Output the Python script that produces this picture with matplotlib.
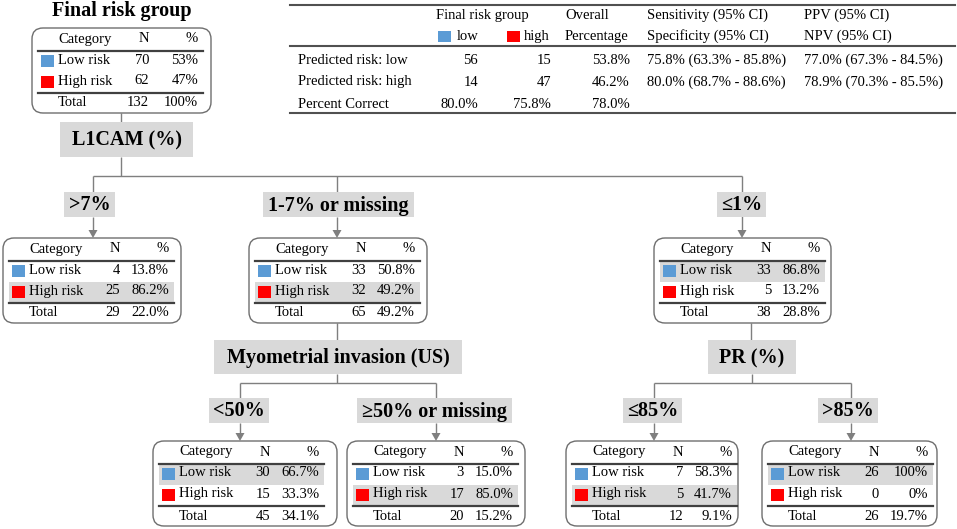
import matplotlib
matplotlib.use("Agg")
import matplotlib.pyplot as plt
from matplotlib.patches import FancyBboxPatch, Rectangle, Polygon

plt.rcParams['font.family'] = ['Liberation Serif', 'DejaVu Serif']

# ---------------- data ----------------
categories = ["Low risk", "High risk"]
cat_colors = ["#5B9BD5", "#FF0000"]

# nodes: root, >7%, 1-7%, <=1%, <50%, >=50%, <=85%, >85%
low_n = [70, 4, 33, 33, 30, 3, 7, 26]
high_n = [62, 25, 32, 5, 15, 17, 5, 0]
low_pct = ["53%", "13.8%", "50.8%", "86.8%", "66.7%", "15.0%", "58.3%", "100%"]
high_pct = ["47%", "86.2%", "49.2%", "13.2%", "33.3%", "85.0%", "41.7%", "0%"]
total_n = [132, 29, 65, 38, 45, 20, 12, 26]
total_pct = ["100%", "22.0%", "49.2%", "28.8%", "34.1%", "15.2%", "9.1%", "19.7%"]
highlight = [None, 1, 1, 0, 0, 1, 1, 0]   # row index shaded grey

split_labels = ["L1CAM (%)", "Myometrial invasion (US)", "PR (%)"]
branch_labels = [">7%", "1-7% or missing", "≤1%", "<50%", "≥50% or missing", "≤85%", ">85%"]

# classification table
tbl_rows = ["Predicted risk: low", "Predicted risk: high", "Percent Correct"]
tbl_low = ["56", "14", "80.0%"]
tbl_high = ["15", "47", "75.8%"]
tbl_overall = ["53.8%", "46.2%", "78.0%"]
tbl_sens_spec = ["75.8% (63.3% - 85.8%)", "80.0% (68.7% - 88.6%)", ""]
tbl_ppv_npv = ["77.0% (67.3% - 84.5%)", "78.9% (70.3% - 85.5%)", ""]

# ---------------- layout (pixels, y grows downward) ----------------
box_left = [32, 3, 249, 654, 153, 347, 566, 762]
box_width = [179, 178, 178, 177, 184, 178, 172, 175]
box_top = [28, 238, 238, 238, 441, 441, 441, 441]
BOX_H = 85
split_rect = [(60, 122, 193, 157), (214, 340, 462, 374), (708, 340, 796, 374)]
branch_rect = [(64, 192, 115, 217), (263, 192, 414, 217), (717, 192, 766, 217),
               (209, 398, 269, 423), (357, 398, 512, 423),
               (623, 398, 682, 423), (818, 398, 878, 423)]

GREY_LINE = "#7F7F7F"
LABEL_BG = "#D9D9D9"
DARK = "#404040"
FS = 10.5
FS_BIG = 14.5

fig = plt.figure(figsize=(9.57, 5.29), dpi=100)
ax = fig.add_axes([0, 0, 1, 1])
ax.set_xlim(0, 957)
ax.set_ylim(529, 0)
ax.axis('off')


def seg(x0, y0, x1, y1):
    ax.plot([x0, x1], [y0, y1], color=GREY_LINE, lw=1.0, solid_capstyle='butt', zorder=1)


def arrow(x, y0, y1):
    seg(x, y0, x, y1 - 7)
    ax.add_patch(Polygon([[x - 4.5, y1 - 8], [x + 4.5, y1 - 8], [x, y1]],
                         closed=True, color=GREY_LINE, lw=0, zorder=2))


def label_box(rect, text):
    x0, y0, x1, y1 = rect
    ax.add_patch(Rectangle((x0, y0), x1 - x0, y1 - y0, facecolor=LABEL_BG,
                           edgecolor='none', zorder=2))
    ax.text((x0 + x1) / 2, (y0 + y1) / 2 + 1, text, ha='center', va='center',
            fontsize=FS_BIG, fontweight='bold', zorder=3)


def node(i):
    L, T, W = box_left[i], box_top[i], box_width[i]
    ax.add_patch(FancyBboxPatch((L, T), W, BOX_H,
                                boxstyle="round,pad=0,rounding_size=11",
                                facecolor='white', edgecolor='#6E6E6E', lw=1.0, zorder=2))
    # shaded row
    hl = highlight[i]
    if hl is not None:
        ytop = T + 24 if hl == 0 else T + 44
        ax.add_patch(Rectangle((L + 6, ytop), 165, 19.5, facecolor=LABEL_BG,
                               edgecolor='none', zorder=3))
    # rule lines
    for yy in (T + 22.5, T + 65):
        ax.plot([L + 6, L + 171], [yy, yy], color=DARK, lw=1.6, zorder=4)
    xs_text, xs_n, xs_p = L + 26, L + 117, L + 166
    # header
    yb = T + 14.5
    ax.text(xs_text, yb, "Category", fontsize=FS, va='baseline', ha='left', zorder=5)
    ax.text(L + 112, yb, "N", fontsize=FS, va='baseline', ha='center', zorder=5)
    ax.text(xs_p, yb, "%", fontsize=FS, va='baseline', ha='right', zorder=5)
    rows = [(categories[0], low_n[i], low_pct[i], T + 35.5, T + 27),
            (categories[1], high_n[i], high_pct[i], T + 56.5, T + 48)]
    for k, (cat, n, p, yb, ysq) in enumerate(rows):
        ax.add_patch(Rectangle((L + 9, ysq), 13, 12, facecolor=cat_colors[k],
                               edgecolor='none', zorder=5))
        ax.text(xs_text, yb, cat, fontsize=FS, va='baseline', ha='left', zorder=5)
        ax.text(xs_n, yb, str(n), fontsize=FS, va='baseline', ha='right', zorder=5)
        ax.text(xs_p, yb, p, fontsize=FS, va='baseline', ha='right', zorder=5)
    yb = T + 78.5
    ax.text(xs_text, yb, "Total", fontsize=FS, va='baseline', ha='left', zorder=5)
    ax.text(xs_n, yb, str(total_n[i]), fontsize=FS, va='baseline', ha='right', zorder=5)
    ax.text(xs_p, yb, total_pct[i], fontsize=FS, va='baseline', ha='right', zorder=5)


# title over the root node
ax.text(122, 16, "Final risk group", fontsize=FS_BIG, fontweight='bold',
        ha='center', va='baseline')

for i in range(len(low_n)):
    node(i)
for r, t in zip(split_rect, split_labels):
    label_box(r, t)
for r, t in zip(branch_rect, branch_labels):
    label_box(r, t)

# connectors: root -> L1CAM -> three branches
seg(121, 113, 121, 122)
seg(121, 157, 121, 176)
seg(93, 176, 742, 176)
for x in (93, 337, 742):
    seg(x, 176, x, 192)
arrow(93, 217, 238)
arrow(337, 217, 238)
arrow(742, 216, 238)

# 1-7% -> myometrial invasion
seg(337, 323, 337, 340)
seg(337, 374, 337, 383)
seg(240, 383, 436, 383)
for x in (240, 436):
    seg(x, 383, x, 398)
    arrow(x, 423, 441)

# <=1% -> PR
seg(751, 323, 751, 340)
seg(752, 374, 752, 383)
seg(654, 383, 851, 383)
for x in (654, 851):
    seg(x, 383, x, 398)
    arrow(x, 423, 441)

# ---------------- classification table ----------------
for yy in (5, 46, 113):
    ax.plot([290, 955], [yy, yy], color='#505050', lw=1.5)

ax.text(436, 19, "Final risk group", fontsize=FS, va='baseline')
ax.text(565, 19, "Overall", fontsize=FS, va='baseline')
ax.text(647, 19, "Sensitivity (95% CI)", fontsize=FS, va='baseline')
ax.text(804, 19, "PPV (95% CI)", fontsize=FS, va='baseline')

ax.add_patch(Rectangle((438, 31), 13, 11, facecolor=cat_colors[0], edgecolor='none'))
ax.add_patch(Rectangle((507, 31), 13, 11, facecolor=cat_colors[1], edgecolor='none'))
ax.text(457, 40, "low", fontsize=FS, va='baseline')
ax.text(524, 40, "high", fontsize=FS, va='baseline')
ax.text(565, 40, "Percentage", fontsize=FS, va='baseline')
ax.text(647, 40, "Specificity (95% CI)", fontsize=FS, va='baseline')
ax.text(804, 40, "NPV (95% CI)", fontsize=FS, va='baseline')

row_base = [63.5, 85.5, 107.5]
for k, yb in enumerate(row_base):
    ax.text(298, yb, tbl_rows[k], fontsize=FS, va='baseline', ha='left')
    ax.text(478, yb, tbl_low[k], fontsize=FS, va='baseline', ha='right')
    ax.text(551, yb, tbl_high[k], fontsize=FS, va='baseline', ha='right')
    ax.text(630, yb, tbl_overall[k], fontsize=FS, va='baseline', ha='right')
    ax.text(647, yb, tbl_sens_spec[k], fontsize=FS, va='baseline', ha='left')
    ax.text(804, yb, tbl_ppv_npv[k], fontsize=FS, va='baseline', ha='left')

fig.savefig("out.png", dpi=100)
